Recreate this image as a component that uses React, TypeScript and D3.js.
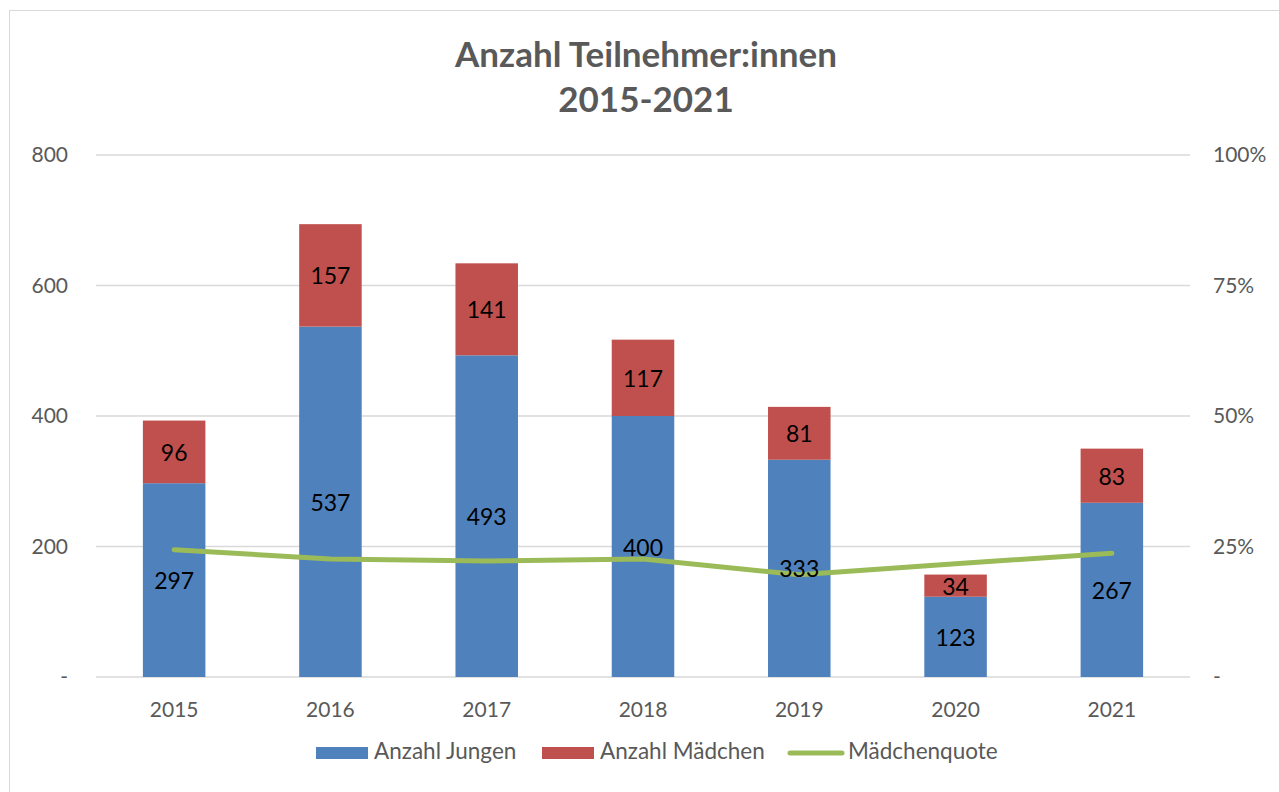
import React from "react";
import * as d3 from "d3";

const years = ["2015", "2016", "2017", "2018", "2019", "2020", "2021"];
const jungen = [297, 537, 493, 400, 333, 123, 267];
const maedchen = [96, 157, 141, 117, 81, 34, 83];
const quote = [24.4, 22.6, 22.2, 22.6, 19.6, 21.7, 23.7];
const leftTicks = [0, 200, 400, 600, 800];
const rightTicks = [0, 25, 50, 75, 100];
const titleLines = ["Anzahl Teilnehmer:innen", "2015-2021"];
const legendItems = [
  { label: "Anzahl Jungen", kind: "rect", color: "#4F81BD", x: 316 },
  { label: "Anzahl Mädchen", kind: "rect", color: "#C0504D", x: 542 },
  { label: "Mädchenquote", kind: "line", color: "#9BBB59", x: 788 },
];

const W = 1279;
const H = 792;
const FONT = "Lato, 'Open Sans', sans-serif";
const GRAY = "#595959";
const BLUE = "#4F81BD";
const RED = "#C0504D";
const GREEN = "#9BBB59";

export default function App() {
  const x = d3.scaleBand().domain(years).range([96, 1190]).paddingInner(0.6).paddingOuter(0.3);
  const y = d3.scaleLinear().domain([0, 800]).range([677, 155]);
  const y2 = d3.scaleLinear().domain([0, 100]).range([677, 155]);
  const bw = x.bandwidth();
  const cx = (yr: string) => (x(yr) as number) + bw / 2;
  const line = d3
    .line<number>()
    .x((_, i) => cx(years[i]))
    .y((d) => y2(d));

  return (
    <svg width={W} height={H} style={{ position: "absolute", left: 0, top: 0 }}>
      <rect x={0} y={0} width={W} height={H} fill="#fff" />
      <rect x={9.5} y={10.5} width={W + 20} height={H + 20} fill="#fff" stroke="#d9d9d9" strokeWidth={1} />
      {titleLines.map((t, i) => (
        <text key={t} x={646} y={67 + i * 45} textAnchor="middle" fontFamily={FONT} fontWeight="bold" fontSize={35} fill={GRAY}>
          {t}
        </text>
      ))}
      {leftTicks.map((t) => (
        <line key={"g" + t} x1={96} x2={1190} y1={y(t)} y2={y(t)} stroke="#d9d9d9" strokeWidth={1.5} />
      ))}
      {leftTicks.map((t) => (
        <text key={"l" + t} x={68} y={y(t) + 7} textAnchor="end" fontFamily={FONT} fontSize={21} fill={GRAY}>
          {t === 0 ? "-" : t}
        </text>
      ))}
      {rightTicks.map((t) => (
        <text key={"r" + t} x={1213} y={y2(t) + 7} textAnchor="start" fontFamily={FONT} fontSize={21} fill={GRAY}>
          {t === 0 ? "-" : t + "%"}
        </text>
      ))}
      {years.map((yr) => (
        <text key={"x" + yr} x={cx(yr)} y={717} textAnchor="middle" fontFamily={FONT} fontSize={21} fill={GRAY}>
          {yr}
        </text>
      ))}
      {years.map((yr, i) => (
        <g key={"b" + yr}>
          <rect x={x(yr)} y={y(jungen[i])} width={bw} height={y(0) - y(jungen[i])} fill={BLUE} />
          <rect
            x={x(yr)}
            y={y(jungen[i] + maedchen[i])}
            width={bw}
            height={y(jungen[i]) - y(jungen[i] + maedchen[i])}
            fill={RED}
          />
        </g>
      ))}
      <path d={line(quote) || ""} fill="none" stroke={GREEN} strokeWidth={5} strokeLinejoin="round" strokeLinecap="round" />
      {years.map((yr, i) => (
        <g key={"d" + yr} fontFamily={FONT} fontSize={23} fill="#000" textAnchor="middle">
          <text x={cx(yr)} y={y(jungen[i] / 2) + 9}>{jungen[i]}</text>
          <text x={cx(yr)} y={y(jungen[i] + maedchen[i] / 2) + 9}>{maedchen[i]}</text>
        </g>
      ))}
      <g fontFamily={FONT} fontSize={22.5} fill={GRAY}>
        {legendItems.map((it) => (
          <g key={it.label}>
            {it.kind === "rect" ? (
              <rect x={it.x} y={747} width={52} height={12} fill={it.color} />
            ) : (
              <line x1={it.x + 2} x2={it.x + 54} y1={753} y2={753} stroke={it.color} strokeWidth={5} strokeLinecap="round" />
            )}
            <text x={it.x + (it.kind === "rect" ? 58 : 60)} y={759}>{it.label}</text>
          </g>
        ))}
      </g>
    </svg>
  );
}
